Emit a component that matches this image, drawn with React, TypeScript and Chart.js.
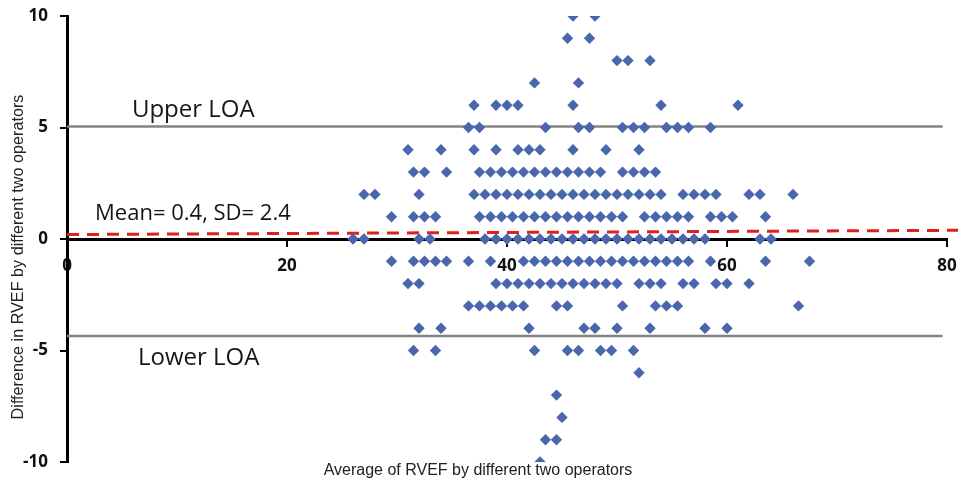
import React, { useEffect, useRef } from "react";
import { Chart, registerables } from "chart.js";

Chart.register(...registerables);

// Average of RVEF (x) for each difference value (y)
const avgAtDiff10 = [46, 48];
const avgAtDiff9 = [45.5, 47.5];
const avgAtDiff8 = [50, 51, 53];
const avgAtDiff7 = [42.5, 46.5];
const avgAtDiff6 = [37, 39, 40, 41, 46, 54, 61];
const avgAtDiff5 = [36.5, 37.5, 43.5, 46.5, 47.5, 50.5, 51.5, 52.5, 54.5, 55.5, 56.5, 58.5];
const avgAtDiff4 = [31, 34, 37, 39, 41, 42, 43, 46, 49, 52];
const avgAtDiff3 = [31.5, 32.5, 34.5, 37.5, 38.5, 39.5, 40.5, 41.5, 42.5, 43.5, 44.5, 45.5, 46.5, 47.5, 48.5, 50.5, 51.5, 52.5, 53.5];
const avgAtDiff2 = [27, 28, 32, 37, 38, 39, 40, 41, 42, 43, 44, 45, 46, 47, 48, 49, 50, 51, 52, 53, 54, 56, 57, 58, 59, 62, 63, 66];
const avgAtDiff1 = [29.5, 31.5, 32.5, 33.5, 37.5, 38.5, 39.5, 40.5, 41.5, 42.5, 43.5, 44.5, 45.5, 46.5, 47.5, 48.5, 49.5, 50.5, 52.5, 53.5, 54.5, 55.5, 56.5, 58.5, 59.5, 60.5, 63.5];
const avgAtDiff0 = [26, 27, 32, 33, 38, 39, 40, 41, 42, 43, 44, 45, 46, 47, 48, 49, 50, 51, 52, 53, 54, 55, 56, 57, 58, 63, 64];
const avgAtDiffM1 = [29.5, 31.5, 32.5, 33.5, 34.5, 36.5, 38.5, 41.5, 42.5, 43.5, 44.5, 45.5, 46.5, 47.5, 48.5, 49.5, 50.5, 51.5, 52.5, 53.5, 54.5, 55.5, 56.5, 58.5, 63.5, 67.5];
const avgAtDiffM2 = [31, 32, 39, 40, 41, 42, 43, 44, 45, 46, 47, 48, 49, 50, 52, 53, 54, 56, 57, 59, 60, 62];
const avgAtDiffM3 = [36.5, 37.5, 38.5, 39.5, 40.5, 41.5, 44.5, 45.5, 50.5, 53.5, 54.5, 55.5, 66.5];
const avgAtDiffM4 = [32, 34, 42, 47, 48, 50, 53, 58, 60];
const avgAtDiffM5 = [31.5, 33.5, 42.5, 45.5, 46.5, 48.5, 49.5, 51.5];
const avgAtDiffM6 = [52];
const avgAtDiffM7 = [44.5];
const avgAtDiffM8 = [45];
const avgAtDiffM9 = [43.5, 44.5];
const avgAtDiffM10 = [43];

const diffRows: Array<[number, number[]]> = [
  [10, avgAtDiff10],
  [9, avgAtDiff9],
  [8, avgAtDiff8],
  [7, avgAtDiff7],
  [6, avgAtDiff6],
  [5, avgAtDiff5],
  [4, avgAtDiff4],
  [3, avgAtDiff3],
  [2, avgAtDiff2],
  [1, avgAtDiff1],
  [0, avgAtDiff0],
  [-1, avgAtDiffM1],
  [-2, avgAtDiffM2],
  [-3, avgAtDiffM3],
  [-4, avgAtDiffM4],
  [-5, avgAtDiffM5],
  [-6, avgAtDiffM6],
  [-7, avgAtDiffM7],
  [-8, avgAtDiffM8],
  [-9, avgAtDiffM9],
  [-10, avgAtDiffM10],
];

const xRange = [0, 80];
const yRange = [-10, 10];
const xStep = 20;
const yStep = 5;

const upperLOA = 5.05;
const lowerLOA = -4.35;
const loaLineX = [0, 79.6];
const meanLineX = [0, 81];
const meanLineY = [0.2, 0.39];

const annotations = [
  { text: "Upper LOA", x: 5.9, y: 5.48, size: 24 },
  { text: "Mean= 0.4, SD= 2.4", x: 2.55, y: 0.86, size: 22 },
  { text: "Lower LOA", x: 6.45, y: -5.66, size: 24 },
];

const xTitle = "Average of RVEF by different two operators";
const yTitle = "Difference in RVEF by different two operators";

const textPlugin = {
  id: "textOverlay",
  afterDatasetsDraw(chart: any) {
    const { ctx, scales, chartArea } = chart;
    ctx.save();
    ctx.fillStyle = "#161616";
    ctx.textAlign = "left";
    ctx.textBaseline = "alphabetic";
    for (const a of annotations) {
      ctx.font = `${a.size}px "Open Sans"`;
      ctx.fillText(a.text, scales.x.getPixelForValue(a.x), scales.y.getPixelForValue(a.y));
    }
    ctx.fillStyle = "#222";
    ctx.font = '16px "Liberation Sans"';
    ctx.textAlign = "center";
    ctx.textBaseline = "middle";
    ctx.fillText(xTitle, 478, chartArea.bottom + 9);
    ctx.font = '16.2px "Liberation Sans"';
    ctx.translate(19, (chartArea.top + chartArea.bottom) / 2 + 18);
    ctx.rotate(-Math.PI / 2);
    ctx.fillText(yTitle, 0, 0);
    ctx.restore();
  },
};

export default function App() {
  const canvasRef = useRef<HTMLCanvasElement | null>(null);

  useEffect(() => {
    document.body.style.margin = "0";
    let chart: Chart | null = null;
    let cancelled = false;
    const make = () => {
      if (cancelled || !canvasRef.current) return;
      const points: { x: number; y: number }[] = [];
      for (const [y, xs] of diffRows) for (const x of xs) points.push({ x, y });
      chart = new Chart(canvasRef.current, {
        type: "scatter",
        data: {
          datasets: [
            {
              type: "scatter",
              data: points,
              pointStyle: "rectRot",
              pointRadius: 5.7,
              pointBackgroundColor: "#4A67AE",
              pointBorderWidth: 0,
              pointHoverRadius: 5.7,
            } as any,
            {
              type: "line",
              data: loaLineX.map((x) => ({ x, y: upperLOA })),
              borderColor: "#848484",
              borderWidth: 2.5,
              pointRadius: 0,
            },
            {
              type: "line",
              data: loaLineX.map((x) => ({ x, y: lowerLOA })),
              borderColor: "#848484",
              borderWidth: 2.5,
              pointRadius: 0,
            },
            {
              type: "line",
              data: meanLineX.map((x, i) => ({ x, y: meanLineY[i] })),
              borderColor: "#E0201C",
              borderWidth: 3,
              borderDash: [12, 8],
              pointRadius: 0,
              clip: false,
            } as any,
          ],
        },
        options: {
          animation: false,
          responsive: false,
          events: [],
          layout: { padding: { left: 0, right: 11, top: 16, bottom: 22 } },
          plugins: { legend: { display: false }, tooltip: { enabled: false }, title: { display: false } },
          scales: {
            x: {
              type: "linear",
              position: { y: 0 } as any,
              min: xRange[0],
              max: xRange[1],
              afterFit: (scale: any) => {
                scale.paddingLeft = 0;
                scale.paddingRight = 0;
              },
              ticks: {
                stepSize: xStep,
                color: "#111",
                padding: 11,
                font: { family: '"Open Sans"', size: 17, weight: "bold" },
              },
              grid: { drawOnChartArea: false, drawTicks: true, tickLength: 6, color: "#000", lineWidth: 2 },
              border: { display: true, color: "#000", width: 3 },
            },
            y: {
              type: "linear",
              position: "left",
              min: yRange[0],
              max: yRange[1],
              afterFit: (scale: any) => {
                scale.width = 67;
                scale.paddingTop = 0;
                scale.paddingBottom = 0;
              },
              ticks: {
                stepSize: yStep,
                color: "#111",
                padding: 12,
                font: { family: '"Open Sans"', size: 17, weight: "bold" },
              },
              grid: { drawOnChartArea: false, drawTicks: true, tickLength: 7, color: "#000", lineWidth: 2 },
              border: { display: true, color: "#000", width: 3 },
            },
          },
        },
        plugins: [textPlugin],
      });
    };
    const fontsReady = (document as any).fonts
      ? Promise.all([
          (document as any).fonts.load('bold 17px "Open Sans"'),
          (document as any).fonts.load('22px "Open Sans"'),
          (document as any).fonts.load('16px "Liberation Sans"'),
        ]).catch(() => null)
      : Promise.resolve(null);
    fontsReady.then(make);
    return () => {
      cancelled = true;
      if (chart) chart.destroy();
    };
  }, []);

  return (
    <div style={{ width: 958, height: 484 }}>
      <canvas ref={canvasRef} width={958} height={484} />
    </div>
  );
}
